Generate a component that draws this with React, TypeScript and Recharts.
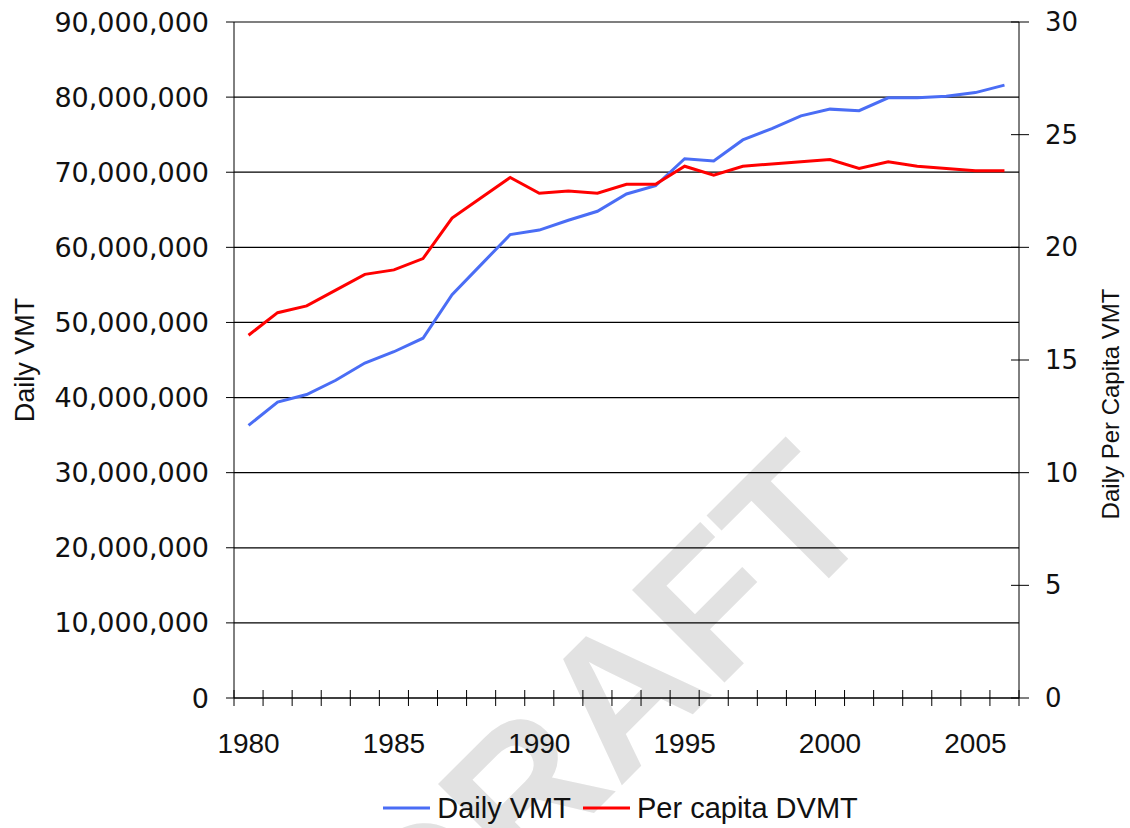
import { LineChart, Line, XAxis, YAxis, CartesianGrid, Legend } from 'recharts';

const years = [
  1980, 1981, 1982, 1983, 1984, 1985, 1986, 1987, 1988, 1989, 1990, 1991, 1992, 1993,
  1994, 1995, 1996, 1997, 1998, 1999, 2000, 2001, 2002, 2003, 2004, 2005, 2006,
];

// Daily VMT, vehicle miles
const dailyVmt = [
  36300000, 39400000, 40400000, 42300000, 44600000, 46100000, 47900000, 53700000,
  57700000, 61700000, 62300000, 63600000, 64800000, 67100000, 68200000, 71800000,
  71500000, 74300000, 75800000, 77500000, 78400000, 78200000, 79900000, 79900000,
  80100000, 80600000, 81600000,
];

// per capita daily VMT
const perCapitaDvmt = [
  16.1, 17.1, 17.4, 18.1, 18.8, 19.0, 19.5, 21.3, 22.2, 23.1, 22.4, 22.5, 22.4, 22.8,
  22.8, 23.6, 23.2, 23.6, 23.7, 23.8, 23.9, 23.5, 23.8, 23.6, 23.5, 23.4, 23.4,
];

const leftTicks = [0, 10000000, 20000000, 30000000, 40000000, 50000000, 60000000, 70000000, 80000000, 90000000];
const rightTicks = [0, 5, 10, 15, 20, 25, 30];
const yearLabels = [1980, 1985, 1990, 1995, 2000, 2005];
const yearBounds = [...years.map((y) => y - 0.5), 2006.5];

const data = years.map((year, i) => ({ year, vmt: dailyVmt[i], dvmt: perCapitaDvmt[i] }));

const BLUE = '#4a6df5';
const RED = '#ff0000';
const tickFont = { fill: '#111', fontSize: 27, fontFamily: 'DejaVu Sans' };

const MinorTick = ({ x, y }: any) => (
  <line x1={x} x2={x} y1={y - 8} y2={y + 8} stroke="#000" strokeWidth={1} />
);

const RightTick = ({ x, y, payload }: any) => (
  <g>
    <line x1={x - 8} x2={x + 10} y1={y} y2={y} stroke="#000" strokeWidth={1} />
    <text x={x + 26} y={y} dominantBaseline="central" textAnchor="start" fill="#111" fontSize={26} fontFamily="DejaVu Sans">
      {payload.value}
    </text>
  </g>
);

const LeftTitle = ({ viewBox }: any) => {
  const cx = viewBox.x + 25;
  const cy = viewBox.y + viewBox.height / 2;
  return (
    <text x={cx} y={cy} transform={`rotate(-90 ${cx} ${cy})`} textAnchor="middle" dominantBaseline="central"
      fontSize={27} fontFamily="Liberation Sans" fill="#111">
      Daily VMT
    </text>
  );
};

const RightTitle = ({ viewBox }: any) => {
  const cx = viewBox.x + 91;
  const cy = viewBox.y + viewBox.height / 2 + 44;
  return (
    <text x={cx} y={cy} transform={`rotate(-90 ${cx} ${cy})`} textAnchor="middle" dominantBaseline="central"
      fontSize={24} fontFamily="Liberation Sans" fill="#111">
      Daily Per Capita VMT
    </text>
  );
};

const legendItems = [
  { label: 'Daily VMT', color: BLUE },
  { label: 'Per capita DVMT', color: RED },
];

const LegendContent = () => (
  <div style={{ display: 'flex', justifyContent: 'center', alignItems: 'center', marginLeft: 234, width: 785, height: 40 }}>
    {legendItems.map((it) => (
      <div key={it.label} style={{ display: 'flex', alignItems: 'center', marginRight: 12 }}>
        <svg width={47} height={6} style={{ marginRight: 7 }}>
          <line x1={0} x2={47} y1={3} y2={3} stroke={it.color} strokeWidth={3} />
        </svg>
        <span style={{ fontFamily: 'Liberation Sans', fontSize: 29, color: '#111' }}>{it.label}</span>
      </div>
    ))}
  </div>
);

export default function App() {
  return (
    <div style={{ position: 'relative', width: 1130, height: 828, background: '#fff', overflow: 'hidden' }}>
      <style>{'body{margin:0}'}</style>
      <svg width={1130} height={828} style={{ position: 'absolute', left: 0, top: 0 }}>
        <text x={652} y={755} transform="rotate(-45 652 755)" textAnchor="middle" fontSize={190}
          fontWeight="bold" fontFamily="Liberation Sans" fill="#e2e2e2">
          DRAFT
        </text>
      </svg>
      <div style={{ position: 'absolute', left: 0, top: 0 }}>
        <LineChart width={1130} height={828} data={data} margin={{ top: 22, right: 0, bottom: 0, left: 0 }}>
          <CartesianGrid xAxisId="b" yAxisId="left" vertical={false} stroke="#000" strokeWidth={1.2} />
          <XAxis xAxisId="a" type="number" dataKey="year" domain={[1979.5, 2006.5]} ticks={yearBounds}
            height={1} axisLine={{ stroke: '#000' }} tickLine={false} tickSize={0} tickMargin={0} tick={<MinorTick />}
            allowDataOverflow interval={0} />
          <XAxis xAxisId="b" type="number" dataKey="year" domain={[1979.5, 2006.5]} ticks={yearLabels}
            height={89} axisLine={false} tickLine={false} tickSize={0} tickMargin={34}
            tick={{ fill: '#111', fontSize: 28, fontFamily: 'Liberation Sans' }} allowDataOverflow interval={0} />
          <YAxis yAxisId="left" orientation="left" width={234} domain={[0, 90000000]} ticks={leftTicks}
            tickFormatter={(v: number) => v.toLocaleString('en-US')} axisLine={{ stroke: '#000' }}
            tickLine={{ stroke: '#000' }} tickSize={8} tickMargin={17} tick={tickFont} interval={0}
            label={{ content: LeftTitle }} />
          <YAxis yAxisId="right" orientation="right" width={111} domain={[0, 30]} ticks={rightTicks}
            axisLine={{ stroke: '#000' }} tickLine={false} tickSize={0} tickMargin={0} tick={<RightTick />}
            interval={0} label={{ content: RightTitle }} />
          <Legend verticalAlign="bottom" height={40} content={LegendContent} />
          <Line xAxisId="b" yAxisId="left" type="linear" dataKey="vmt" name="Daily VMT" stroke={BLUE}
            strokeWidth={3} dot={false} isAnimationActive={false} />
          <Line xAxisId="b" yAxisId="right" type="linear" dataKey="dvmt" name="Per capita DVMT" stroke={RED}
            strokeWidth={3} dot={false} isAnimationActive={false} />
        </LineChart>
      </div>
    </div>
  );
}
